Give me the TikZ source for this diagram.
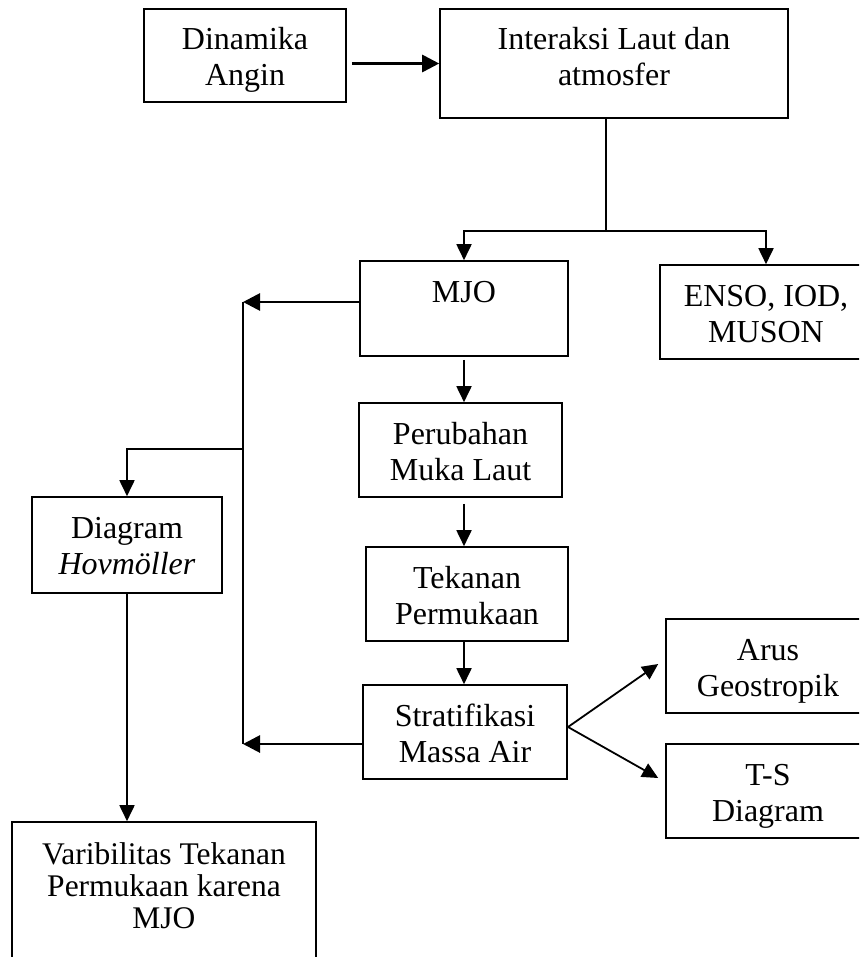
\documentclass[tikz,border=0pt]{standalone}
\usepackage{fontspec}
\setmainfont{Liberation Serif}
\usetikzlibrary{arrows.meta,calc}
\tikzstyle{block}=[rectangle, draw
,line width=1.6pt
,inner sep=0pt
,font=\fontsize{32}{36}\selectfont
]
\tikzstyle{link}=[draw, line width=1.8pt]
\tikzstyle{flow}=[link, -{Triangle[length=16pt,width=15pt]}]
\tikzstyle{thick flow}=[link, line width=2.8pt, -{Triangle[length=17pt,width=17pt]}]
% text sits at the top of each box
\newcommand{\boxtext}[4]{\parbox[c][#2pt][t]{#1pt}{\centering\rule{0pt}{#3pt}#4}}

\begin{document}
\begin{tikzpicture}[x=1pt,y=-1pt]
    \clip (0,0) rectangle (859,957);
    % First we draw the boxes
    \foreach \pos/\name/\bw/\bh/\txt in {{(245,55.5)/dinamika/202/93/{Dinamika\\Angin}},
        {(614,63.5)/interaksi/348/109/{Interaksi Laut dan\\atmosfer}},
        {(464,308.5)/mjo/208/95/{MJO}},
        {(766,312)/enso/212/94/{ENSO, IOD,\\MUSON}},
        {(460.5,450)/perubahan/203/94/{Perubahan\\Muka Laut}},
        {(467,594)/tekanan/202/94/{Tekanan\\Permukaan}},
        {(465,732)/strat/204/94/{Stratifikasi\\Massa Air}},
        {(768,666)/arus/204/94/{Arus\\Geostropik}},
        {(768,791)/ts/204/94/{T-S\\Diagram}},
        {(127,545)/diagram/190/96/{Diagram\\\textit{Hovmöller}}}}
        \node[block] (\name) at \pos {\boxtext{\bw}{\bh}{41}{\txt}};
    \node[block, font=\fontsize{31.5}{32}\selectfont] (varib) at (164,897)
        {\boxtext{304}{150}{42}{Varibilitas Tekanan\\Permukaan karena\\MJO}};

    % Points where the lines split
    \coordinate (split) at (606,231);
    \coordinate (bustop) at (243,302);
    \coordinate (busmid) at (243,449);
    \coordinate (busbot) at (243,744);
    \coordinate (fork) at (568,727);

    % Connect boxes with arrows
    \path[thick flow, shorten <=5pt] (dinamika.east |- interaksi.west) -- (interaksi.west);
    \path[link] (split |- interaksi.south) -- (split);
    \foreach \dest in {mjo, enso}
        \path[flow] (split) -| (\dest.north);
    \path[thick flow] (bustop -| mjo.west) -- (bustop);
    \path[link] (bustop) -- (busbot);
    \path[flow] (busmid) -| (diagram.north);
    \path[thick flow] (busbot -| strat.west) -- (busbot);
    \path[flow, shorten <=3pt] (mjo.south) -- (mjo.south |- perubahan.north);
    \path[flow, shorten <=6pt] (perubahan.south -| mjo.south) -- (tekanan.north -| mjo.south);
    \path[flow] (tekanan.south -| mjo.south) -- (strat.north -| mjo.south);
    \path[flow] (fork) -- ($(arus.west)+(-7,-2)$);
    \path[flow] (fork) -- ($(ts.west)+(-7,-13)$);
    \path[flow] (diagram.south) -- (diagram.south |- varib.north);
\end{tikzpicture}
\end{document}
